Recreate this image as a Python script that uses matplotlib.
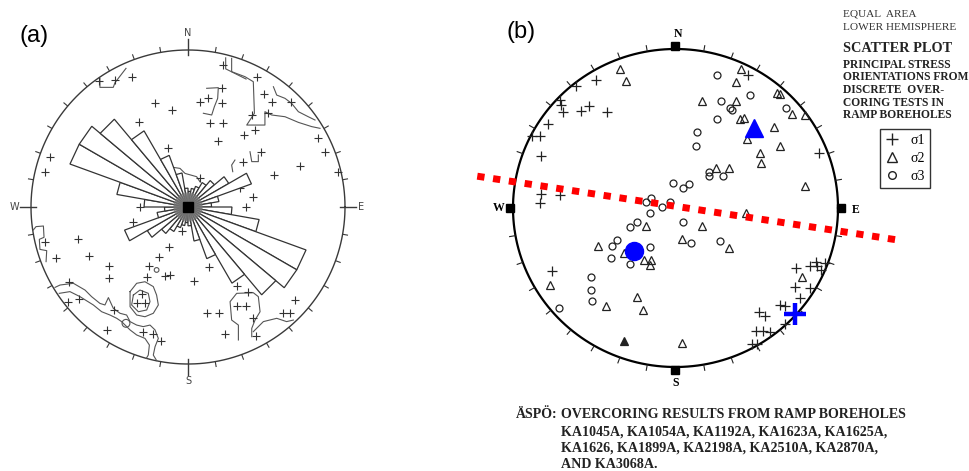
import numpy as np
import matplotlib.pyplot as plt
from matplotlib.patches import Polygon, Circle
from matplotlib.lines import Line2D

W, H = 970, 471

# ---------------- panel (a) data (unit circle, x = east, y = north) ----------------
rose_bins = np.arange(5, 180, 10)  # bin centres (deg), bidirectional rose
rose_len = [0.10, 0.12, 0.14, 0.18, 0.22, 0.30, 0.43, 0.20, 0.15,
            0.28, 0.46, 0.80, 0.80, 0.73, 0.56, 0.35, 0.22, 0.12]

cross_a_x = [0.225, 0.437, 0.486, 0.214, 0.076, 0.130, 0.219, 0.140, 0.225, 0.193,
             0.359, 0.406, 0.427, 0.507, 0.537, 0.656, 0.830, 0.873, 0.713, 0.550,
             0.465, 0.352, 0.955, -0.570, -0.465, -0.359, -0.210, -0.104, -0.310, -0.125,
             -0.157, -0.879, -0.911, -0.327, -0.306, -0.348, 0.331, 0.416, 0.369, 0.263,
             0.076, -0.699, -0.628, -0.501, -0.501, -0.841, -0.119, -0.183, -0.246, -0.259,
             -0.146, -0.115, -0.040, -0.756, -0.762, -0.692, -0.518, -0.471, -0.295, -0.327,
             -0.274, -0.285, -0.225, -0.174, -0.911, 0.038, 0.136, 0.314, 0.384, 0.448,
             0.119, 0.200, 0.314, 0.369, 0.236, 0.384, 0.682, 0.607, 0.650, 0.416,
             0.433, 0.140]
cross_a_y = [0.904, 0.830, 0.718, 0.756, 0.671, 0.692, 0.660, 0.533, 0.533, 0.420,
             0.459, 0.586, 0.490, 0.597, 0.671, 0.667, 0.437, 0.348, 0.263, 0.204,
             0.348, 0.289, 0.225, 0.800, 0.809, 0.826, 0.665, 0.618, 0.544, 0.374,
             0.278, 0.321, 0.225, 0.325, 0.002, -0.093, 0.119, 0.066, 0.002, -0.062,
             0.183, -0.204, -0.310, -0.374, -0.454, -0.327, -0.253, -0.316, -0.374, -0.444,
             -0.437, -0.433, -0.153, -0.480, -0.607, -0.586, -0.783, -0.656, -0.556, -0.614,
             -0.614, -0.794, -0.811, -0.854, -0.221, -0.469, -0.380, -0.503, -0.338, -0.369,
             -0.673, -0.677, -0.631, -0.631, -0.811, -0.539, -0.592, -0.677, -0.677, -0.709,
             -0.822, -0.231]

# digitised density contours
cont_ul = [(-0.561, 0.820), (-0.561, 0.762), (-0.476, 0.762), (-0.465, 0.792), (-0.395, 0.883)]
cont_ur = [(0.278, 0.947), (0.278, 0.862), (0.363, 0.830), (0.416, 0.798), (0.423, 0.597),
           (0.374, 0.522), (0.490, 0.522), (0.490, 0.607), (0.533, 0.586), (0.618, 0.575),
           (0.703, 0.539), (0.788, 0.512), (0.841, 0.501)]
cont_ur_in1 = [(0.544, 0.766), (0.565, 0.713), (0.618, 0.692), (0.660, 0.660),
               (0.703, 0.607), (0.766, 0.575), (0.809, 0.554)]
cont_ur_in2 = [(0.240, 0.950), (0.240, 0.880), (0.300, 0.850), (0.370, 0.815)]
cont_box = [(0.119, 0.756), (0.193, 0.760), (0.189, 0.692), (0.168, 0.639), (0.151, 0.586), (0.098, 0.597)]
cont_b = [(0.395, 0.352), (0.406, 0.289), (0.448, 0.289), (0.448, 0.331)]
cont_paren = [(0.299, 0.299), (0.278, 0.267), (0.285, 0.225)]
cont_ll_out = [(-0.847, -0.512), (-0.815, -0.497), (-0.730, -0.486), (-0.656, -0.529), (-0.614, -0.571),
               (-0.561, -0.614), (-0.529, -0.624), (-0.507, -0.577), (-0.476, -0.645), (-0.433, -0.677),
               (-0.391, -0.688), (-0.369, -0.730), (-0.327, -0.752), (-0.285, -0.762), (-0.242, -0.752),
               (-0.210, -0.783), (-0.189, -0.837), (-0.210, -0.890), (-0.221, -0.943), (-0.200, -0.978)]
cont_ll_in = [(-0.820, -0.550), (-0.752, -0.539), (-0.688, -0.571), (-0.603, -0.624), (-0.550, -0.667),
              (-0.497, -0.688), (-0.454, -0.709), (-0.423, -0.730), (-0.369, -0.783), (-0.327, -0.815),
              (-0.274, -0.837), (-0.246, -0.879), (-0.253, -0.943), (-0.265, -0.963)]
cont_blob = [(-0.369, -0.539), (-0.327, -0.486), (-0.274, -0.476), (-0.221, -0.507), (-0.200, -0.561),
             (-0.189, -0.624), (-0.221, -0.677), (-0.274, -0.699), (-0.327, -0.688), (-0.369, -0.635),
             (-0.369, -0.539)]
cont_blob_in = [(-0.348, -0.561), (-0.306, -0.529), (-0.253, -0.550), (-0.242, -0.603),
                (-0.263, -0.656), (-0.316, -0.667), (-0.359, -0.624), (-0.348, -0.561)]
cont_lr1 = [(0.321, -0.847), (0.321, -0.752), (0.278, -0.720), (0.268, -0.603), (0.310, -0.550),
            (0.416, -0.546), (0.448, -0.571), (0.459, -0.667), (0.427, -0.720), (0.406, -0.773),
            (0.406, -0.826)]
cont_lr2 = [(0.416, -0.794), (0.480, -0.730), (0.565, -0.709), (0.628, -0.730), (0.671, -0.720)]
cont_left = [(-0.985, -0.146), (-0.968, -0.125), (-0.921, -0.121), (-0.917, -0.193),
             (-0.947, -0.206), (-0.943, -0.270), (-0.900, -0.278), (-0.904, -0.348)]
cont_mid = [(-0.157, 0.225), (-0.125, 0.257), (-0.051, 0.246), (-0.019, 0.214), (0.055, 0.193), (0.076, 0.161)]
contours_a = [cont_ul, cont_ur, cont_ur_in1, cont_ur_in2, cont_box, cont_b, cont_paren,
              cont_ll_out, cont_ll_in, cont_blob, cont_blob_in, cont_lr1, cont_lr2,
              cont_left, cont_mid]

# ---------------- panel (b) data ----------------
s1_x = [-0.491, -0.614, -0.713, -0.703, -0.692, -0.579, -0.532, -0.422, -0.785, -0.881,
        -0.836, -0.826, -0.826, -0.832, -0.713, -0.758, 0.446, 0.883, 0.867, 0.918,
        0.826, 0.873, 0.897, 0.739, 0.733, 0.826, 0.764, 0.641, 0.672, 0.514,
        0.549, 0.672, 0.497, 0.538, 0.579, 0.473, 0.501]
s1_y = [0.803, 0.765, 0.681, 0.649, 0.601, 0.607, 0.643, 0.601, 0.529, 0.454,
        0.450, 0.324, 0.088, 0.029, 0.082, -0.397, 0.838, 0.345, -0.338, -0.345,
        -0.366, -0.366, -0.391, -0.380, -0.496, -0.500, -0.569, -0.607, -0.618, -0.653,
        -0.681, -0.731, -0.775, -0.775, -0.779, -0.857, -0.857]

s2_x = [-0.339, -0.303, 0.401, 0.374, 0.165, 0.370, 0.627, 0.641, 0.719, 0.795,
        0.395, 0.419, 0.604, 0.440, 0.641, 0.518, 0.528, 0.251, 0.329, 0.795,
        0.436, 0.163, 0.042, 0.329, 0.780, 0.038, -0.179, -0.477, -0.319, -0.196,
        -0.149, -0.155, -0.770, -0.237, -0.426, -0.200]
s2_y = [0.874, 0.796, 0.874, 0.790, 0.670, 0.674, 0.723, 0.716, 0.592, 0.586,
        0.559, 0.565, 0.508, 0.435, 0.391, 0.349, 0.282, 0.250, 0.250, 0.141,
        -0.034, -0.113, -0.197, -0.250, -0.437, -0.849, -0.113, -0.239, -0.282, -0.324,
        -0.324, -0.359, -0.485, -0.559, -0.618, -0.643]
s2_filled_x = [-0.319]
s2_filled_y = [-0.836]

s3_x = [0.255, 0.456, 0.282, 0.333, 0.350, 0.682, 0.255, 0.132, 0.124, 0.206,
        0.206, 0.292, -0.015, 0.046, 0.083, -0.179, -0.149, -0.081, -0.036, -0.159,
        -0.237, -0.278, -0.360, -0.389, -0.159, -0.395, -0.282, -0.518, -0.518, -0.512,
        -0.717, 0.046, 0.097, 0.276]
s3_y = [0.838, 0.712, 0.676, 0.628, 0.618, 0.632, 0.559, 0.481, 0.391, 0.229,
        0.202, 0.202, 0.155, 0.124, 0.151, 0.040, 0.065, 0.008, 0.040, -0.034,
        -0.086, -0.122, -0.202, -0.239, -0.248, -0.317, -0.353, -0.437, -0.517, -0.584,
        -0.626, -0.086, -0.218, -0.206]

# mean orientations (blue) and interpreted trend (red)
mean_s1 = (0.733, -0.664)
mean_s2 = (0.483, 0.502)
mean_s3 = (-0.255, -0.269)
trend_x = [-1.22, 1.36]
trend_y = [0.20, -0.20]

# ---------------- figure ----------------
fig = plt.figure(figsize=(W / 100, H / 100), dpi=100)


def stereo_axes(x0, x1, cx, cy, rx, ry):
    ax = fig.add_axes([x0 / W, 0, (x1 - x0) / W, 1])
    ax.set_xlim((x0 - cx) / rx, (x1 - cx) / rx)
    ax.set_ylim((cy - H) / ry, cy / ry)
    ax.axis('off')
    return ax


def rim_ticks(ax, r0, r1, color, lw, skip_cardinal=True):
    for az in range(0, 360, 10):
        if skip_cardinal and az % 90 == 0:
            continue
        a = np.radians(az)
        ax.plot([r0 * np.sin(a), r1 * np.sin(a)], [r0 * np.cos(a), r1 * np.cos(a)],
                color=color, lw=lw, solid_capstyle='butt')


t = np.linspace(0, 2 * np.pi, 400)

# ---- panel (a)
ax_a = stereo_axes(0, 470, 188, 207, 157, 157)
gray = '#3a3a3a'
ax_a.plot(np.cos(t), np.sin(t), color=gray, lw=1.0)
rim_ticks(ax_a, 1.0, 1.035, gray, 0.8)
for az in (0, 90, 180, 270):
    a = np.radians(az)
    ax_a.plot([0.97 * np.sin(a), 1.07 * np.sin(a)], [0.97 * np.cos(a), 1.07 * np.cos(a)],
              color=gray, lw=1.0)
for lab, xx, yy in [('N', 0, 1.11), ('S', 0, -1.11), ('W', -1.105, 0), ('E', 1.10, 0)]:
    ax_a.text(xx, yy, lab, ha='center', va='center', fontsize=7, color='#444')

for c in contours_a:
    cx_, cy_ = zip(*c)
    ax_a.plot(cx_, cy_, color='#555555', lw=0.8)
ax_a.add_patch(Circle((-0.395, -0.741), 0.025, fill=False, ec='#555555', lw=0.8))
ax_a.add_patch(Circle((-0.200, -0.401), 0.015, fill=False, ec='#555555', lw=0.8))

ax_a.plot(cross_a_x, cross_a_y, ls='none', marker='+', ms=6, mew=0.8, color='#333333')

for b, L in zip(rose_bins, rose_len):
    for off in (0, 180):
        a1 = np.radians(b + off - 5)
        a2 = np.radians(b + off + 5)
        poly = Polygon([(0, 0), (L * np.sin(a1), L * np.cos(a1)), (L * np.sin(a2), L * np.cos(a2))],
                       closed=True, facecolor='white', edgecolor='#333333', lw=0.9, zorder=3)
        ax_a.add_patch(poly)
# dense hub of tiny petals
for az in np.arange(0, 360, 4):
    a = np.radians(az)
    ax_a.plot([0, 0.09 * np.sin(a)], [0, 0.09 * np.cos(a)], color='#777777', lw=0.6, zorder=4)
ax_a.plot(0, 0, marker='s', ms=7, color='black', zorder=5)

# ---- panel (b)
ax_b = stereo_axes(470, 970, 675.5, 208, 162.5, 159)
ax_b.plot(np.cos(t), np.sin(t), color='black', lw=1.6)
rim_ticks(ax_b, 1.0, 1.04, '#222222', 0.8)
for az in (0, 90, 180, 270):
    a = np.radians(az)
    ax_b.plot(1.02 * np.sin(a), 1.02 * np.cos(a), marker='s', ms=5.5, color='black')
bfont = dict(family='Liberation Serif', fontweight='bold')
for lab, xx, yy in [('N', 0.015, 1.095), ('S', 0.0, -1.10), ('W', -1.09, 0.0), ('E', 1.11, -0.01)]:
    ax_b.text(xx, yy, lab, ha='center', va='center', fontsize=8.5, **bfont)

ink = '#222222'
ax_b.plot(s1_x, s1_y, ls='none', marker='+', ms=7, mew=0.9, color=ink)
ax_b.plot(s2_x, s2_y, ls='none', marker='^', ms=6, mew=0.9, mfc='none', mec=ink)
ax_b.plot(s2_filled_x, s2_filled_y, ls='none', marker='^', ms=6, mew=0.9, mfc=ink, mec=ink)
ax_b.plot(s3_x, s3_y, ls='none', marker='o', ms=5, mew=0.9, mfc='none', mec=ink)

ax_b.plot(trend_x, trend_y, color='#ff0000', lw=5, ls=(0, (1.05, 1.25)),
          solid_capstyle='butt', dash_capstyle='butt', clip_on=False, zorder=6)
ax_b.plot(*mean_s2, marker='^', ms=13, color='#0000ff', zorder=7)
ax_b.plot(*mean_s3, marker='o', ms=13, color='#0000ff', zorder=7)
ax_b.plot(*mean_s1, marker='+', ms=16, mew=3.2, color='#0000ff', zorder=7)

# legend box
handles = [Line2D([], [], ls='none', marker='+', ms=8, mew=1.0, color=ink),
           Line2D([], [], ls='none', marker='^', ms=6.5, mew=1.0, mfc='none', mec=ink),
           Line2D([], [], ls='none', marker='o', ms=5.5, mew=1.0, mfc='none', mec=ink)]
leg = fig.legend(handles, ['σ1', 'σ2', 'σ3'], loc='center',
                 bbox_to_anchor=(905 / W, 1 - 158.5 / H), bbox_transform=fig.transFigure,
                 prop={'family': 'Liberation Serif', 'size': 10},
                 handlelength=1.0, handletextpad=0.8, labelspacing=0.35, borderpad=0.4,
                 borderaxespad=0, fancybox=False, framealpha=1)
leg.get_frame().set_edgecolor('#333333')
leg.get_frame().set_linewidth(1.0)


# text
def ftext(x, y, s, **kw):
    fig.text(x / W, 1 - y / H, s, va='center', ha='left', **kw)


ftext(20, 36, '(a)', fontsize=17, family='Liberation Sans')
ftext(507, 32, '(b)', fontsize=17, family='Liberation Sans')

ftext(843, 14, 'EQUAL  AREA', fontsize=8.1, family='Liberation Serif', color='#333')
ftext(843, 27, 'LOWER HEMISPHERE', fontsize=8.1, family='Liberation Serif', color='#333')
ftext(843, 49, 'SCATTER PLOT', fontsize=10.3, color='#222', **bfont)
for yy, s in [(64.5, 'PRINCIPAL STRESS'), (77, 'ORIENTATIONS FROM'), (90, 'DISCRETE  OVER-'),
              (102.5, 'CORING TESTS IN'), (115, 'RAMP BOREHOLES')]:
    ftext(843, yy, s, fontsize=8.3, color='#222', **bfont)

fs_bot = 10.1
ftext(516, 415, 'ÄSPÖ:', fontsize=fs_bot, color='#222', **bfont)
ftext(561, 415, 'OVERCORING RESULTS FROM RAMP BOREHOLES', fontsize=fs_bot, color='#222', **bfont)
ftext(561, 432, 'KA1045A, KA1054A, KA1192A, KA1623A, KA1625A,', fontsize=fs_bot, color='#222', **bfont)
ftext(561, 448, 'KA1626, KA1899A, KA2198A, KA2510A, KA2870A,', fontsize=fs_bot, color='#222', **bfont)
ftext(561, 464, 'AND KA3068A.', fontsize=fs_bot, color='#222', **bfont)

fig.savefig('out.png', dpi=100, facecolor='white')
